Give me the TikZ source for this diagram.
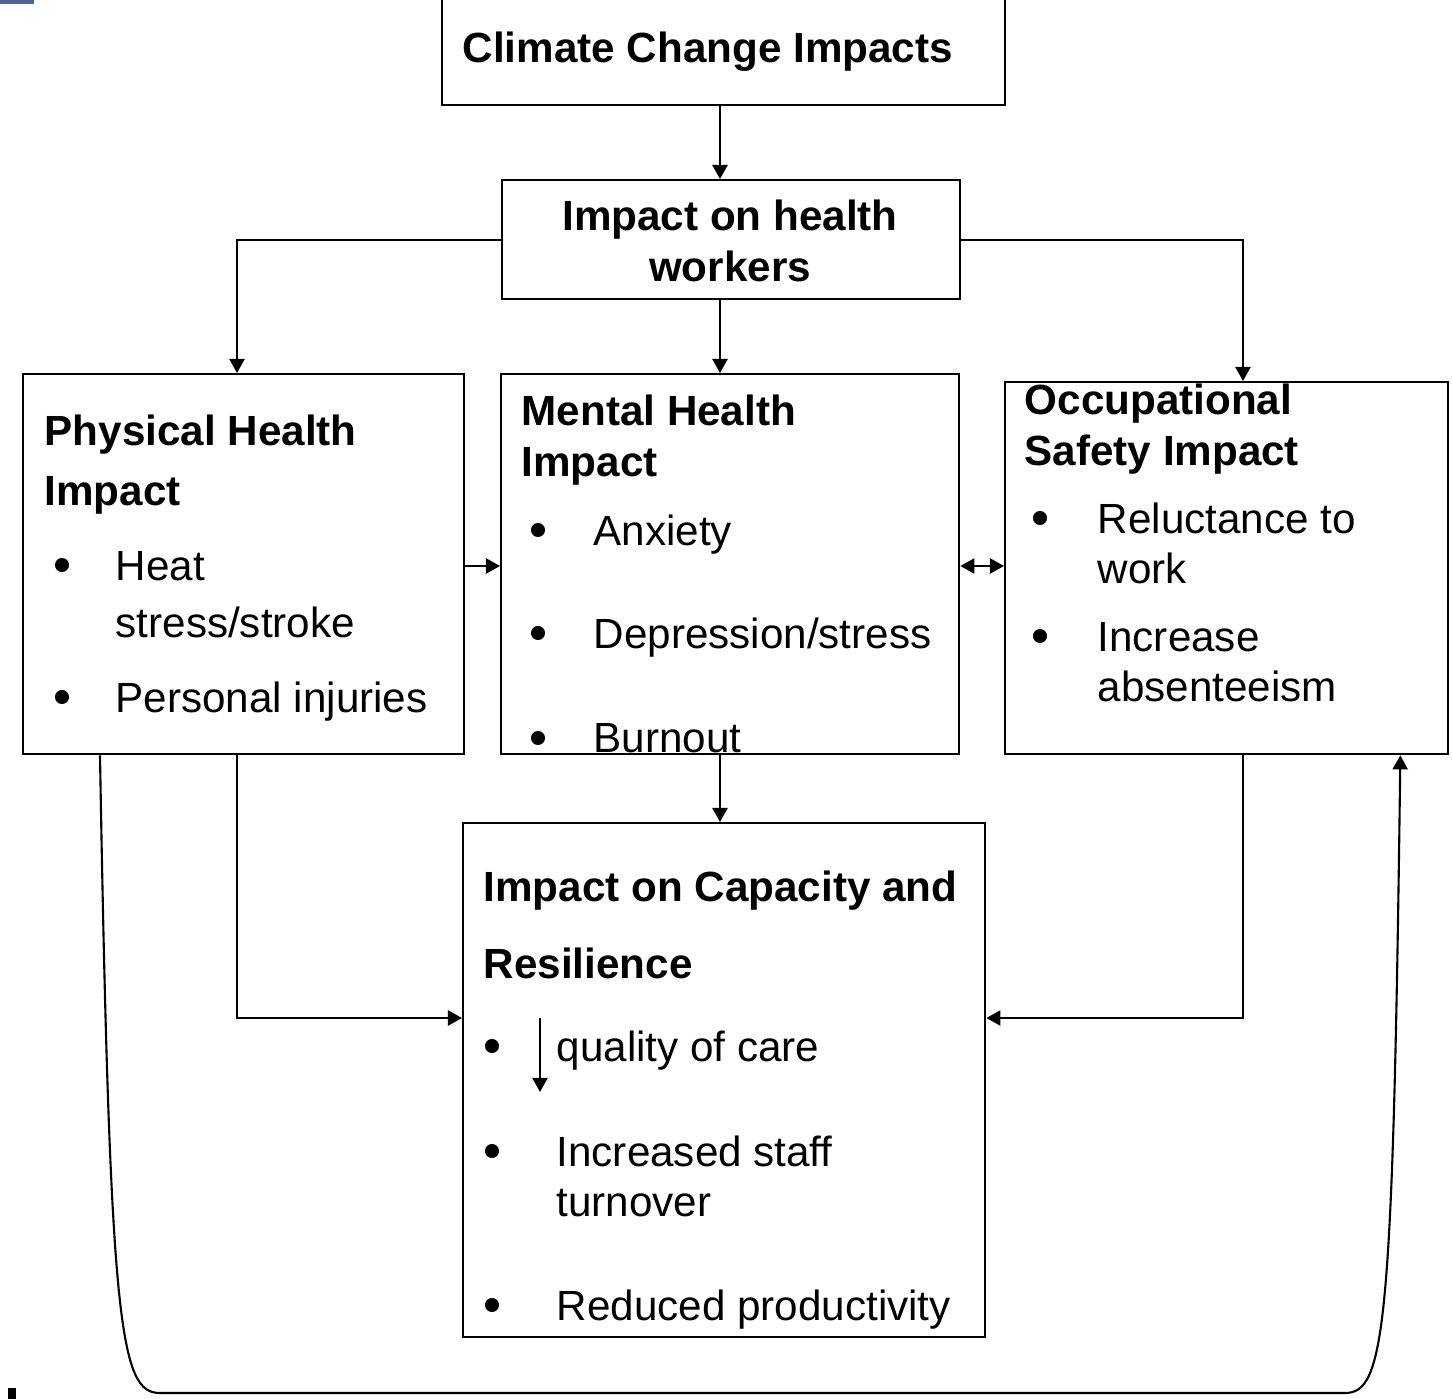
\documentclass[tikz,border=0pt]{standalone}
\usepackage{fontspec}
\setmainfont{Liberation Sans}
\usetikzlibrary{arrows.meta,calc}
\begin{document}
\begin{tikzpicture}[x=0.01cm,y=-0.01cm,
  box/.style={draw,line width=0.6pt,inner sep=0pt,anchor=north west},
  arr/.style={line width=0.6pt,-{Triangle[length=4pt,width=4.3pt]}},
  darr/.style={line width=0.6pt,{Triangle[length=4pt,width=4.3pt]}-{Triangle[length=4pt,width=4.3pt]}},
  txt/.style={inner sep=0pt,anchor=base west,font=\fontsize{12}{14}\selectfont},
  btxt/.style={txt,font=\fontsize{12}{14}\selectfont\bfseries},
  ctxt/.style={inner sep=0pt,anchor=base,font=\fontsize{12}{14}\selectfont\bfseries},
  bul/.style={fill=black}]
\useasboundingbox (0,0) rectangle (1453,1399);
% stray marks at the edges
\fill[fill={rgb,255:red,79;green,102;blue,144}] (0,0) rectangle (34,4);
\fill (8,1388) rectangle (16,1399);
% boxes
\node[box,minimum width=5.63cm,minimum height=1.09cm] (clim) at (441,-5) {};
\node[box,minimum width=4.58cm,minimum height=1.19cm] (hw) at (501,179) {};
\node[box,minimum width=4.41cm,minimum height=3.80cm] (phys) at (22,373) {};
\node[box,minimum width=4.58cm,minimum height=3.80cm] (ment) at (500,373) {};
\node[box,minimum width=4.43cm,minimum height=3.72cm] (occ) at (1004,381) {};
\node[box,minimum width=5.22cm,minimum height=5.14cm] (cap) at (462,822) {};
% guide coordinates
\coordinate (cx) at (720,0);
\coordinate (lx) at (237,0);
\coordinate (rx) at (1243,0);
\coordinate (my) at (0,566);
\coordinate (cy) at (0,1018);
% connectors
\draw[arr] (clim.south -| cx) -- (hw.north -| cx);
\draw[arr] (hw.west) -| (phys.north -| lx);
\draw[arr] (hw.south -| cx) -- (ment.north -| cx);
\draw[arr] (hw.east) -| (occ.north -| rx);
\draw[arr] (phys.east |- my) -- (ment.west |- my);
\draw[darr] (ment.east |- my) -- (occ.west |- my);
\draw[arr] (ment.south -| cx) -- (cap.north -| cx);
\draw[arr] (phys.south -| lx) |- (cap.west |- cy);
\draw[arr] (occ.south -| rx) |- (cap.east |- cy);
\coordinate (loopa) at ($(phys.south west)+(78,0)$);
\coordinate (loopb) at ($(occ.south east)+(-49,0)$);
\draw[arr] (loopa) .. controls (110,1330) and (120,1393) .. (160,1393)
  -- (1345,1393) .. controls (1385,1393) and (1393,1330) .. (loopb);
% texts
\node[btxt] (t1) at (462,62) {Climate Change Impacts};
\node[ctxt] (t2) at (730,230) {Impact on health};
\node[ctxt] (t3) at (730,281) {workers};
\node[btxt] (p1) at (44,445) {Physical Health};
\node[btxt] (p2) at (44,505) {Impact};
\node[txt] (p3) at (115,580) {Heat};
\node[txt] (p4) at (115,637) {stress/stroke};
\node[txt] (p5) at (115,712) {Personal injuries};
\fill[bul] (62,565) circle (2pt);
\fill[bul] (62,697) circle (2pt);
\node[btxt] (m1) at (521,425) {Mental Health};
\node[btxt] (m2) at (521,476) {Impact};
\node[txt] (m3) at (593,545) {Anxiety};
\node[txt] (m4) at (593,648) {Depression/stress};
\node[txt] (m5) at (593,752) {Burnout};
\fill[bul] (538,530) circle (2pt);
\fill[bul] (538,633) circle (2pt);
\fill[bul] (538,738) circle (2pt);
\node[btxt] (o1) at (1024,414) {Occupational};
\node[btxt] (o2) at (1024,465) {Safety Impact};
\node[txt] (o3) at (1097,533) {Reluctance to};
\node[txt] (o4) at (1097,583) {work};
\node[txt] (o5) at (1097,651) {Increase};
\node[txt] (o6) at (1097,701) {absenteeism};
\fill[bul] (1040,518) circle (2pt);
\fill[bul] (1040,636) circle (2pt);
\node[btxt] (c1) at (483,901) {Impact on Capacity and};
\node[btxt] (c2) at (483,978) {Resilience};
\node[txt] (c3) at (556,1061) {quality of care};
\node[txt] (c4) at (556,1166) {Increased staff};
\node[txt] (c5) at (556,1216) {turnover};
\node[txt] (c6) at (556,1320) {Reduced productivity};
\fill[bul] (492,1046) circle (2pt);
\fill[bul] (492,1151) circle (2pt);
\fill[bul] (492,1305) circle (2pt);
\coordinate (qa) at (540,1018);
\coordinate (qb) at (540,1092);
\draw[arr] (qa) -- (qb);
\end{tikzpicture}
\end{document}
